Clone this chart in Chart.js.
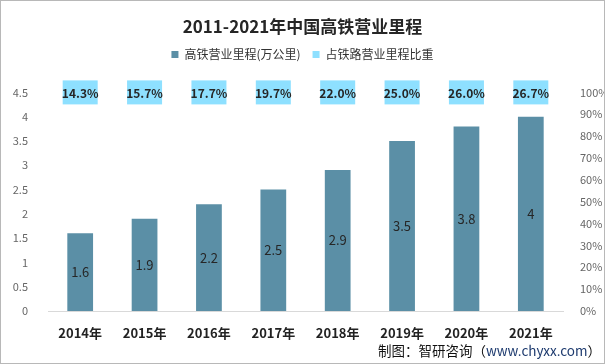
<!DOCTYPE html>
<html>
<head>
<meta charset="utf-8">
<script src="https://cdn.jsdelivr.net/npm/chart.js@4.4.1/dist/chart.umd.min.js"></script>
<style>
  html, body { margin: 0; padding: 0; background: #fff; }
  #wrap { position: relative; width: 605px; height: 364px; box-sizing: border-box; border: 1px solid #b8b8b8; }
  #c { position: absolute; left: 0; top: 0; }
  #source { position: absolute; right: 3px; bottom: 3px; font: 13.5px "Noto Sans CJK SC", sans-serif; color: #111; }
  #source span { color: #1d3a6e; }
</style>
</head>
<body>
<div id="wrap">
  <canvas id="c" width="603" height="362"></canvas>
  <div id="source">制图：智研咨询（<span>www.chyxx.com</span>）</div>
</div>
<script>
const years = ["2014年", "2015年", "2016年", "2017年", "2018年", "2019年", "2020年", "2021年"];
const mileage = [1.6, 1.9, 2.2, 2.5, 2.9, 3.5, 3.8, 4];
const share = [14.3, 15.7, 17.7, 19.7, 22.0, 25.0, 26.0, 26.7];

const FONT = '"Noto Sans CJK SC", "Noto Sans", sans-serif';

// labels in the middle of each bar + percentage boxes along the top
const labelPlugin = {
  id: "labels",
  afterInit(chart) {
    // leave extra room under the legend
    const legend = chart.legend;
    const fit = legend.fit.bind(legend);
    legend.fit = function () {
      fit();
      this.height += 22;
    };
  },
  afterDatasetsDraw(chart) {
    const ctx = chart.ctx;
    const area = chart.chartArea;
    ctx.save();
    ctx.textAlign = "center";
    ctx.textBaseline = "middle";

    chart.getDatasetMeta(0).data.forEach((bar, i) => {
      ctx.font = "13px " + FONT;
      ctx.fillStyle = "#262626";
      ctx.fillText(String(mileage[i]), bar.x, (bar.y + bar.base) / 2);
    });

    chart.getDatasetMeta(1).data.forEach((pt, i) => {
      const w = 35, h = 24;
      ctx.fillStyle = "#8ee0ff";
      ctx.fillRect(pt.x - w / 2, area.top - h / 2, w, h);
      ctx.font = "bold 12px " + FONT;
      ctx.fillStyle = "#262626";
      ctx.fillText(share[i].toFixed(1) + "%", pt.x, area.top + 1);
    });
    ctx.restore();
  }
};

new Chart(document.getElementById("c"), {
  data: {
    labels: years,
    datasets: [
      {
        type: "bar",
        label: "高铁营业里程(万公里)",
        data: mileage,
        backgroundColor: "#5b8fa6",
        barPercentage: 0.8,
        categoryPercentage: 0.5,
        yAxisID: "y",
        order: 2
      },
      {
        type: "line",
        label: "占铁路营业里程比重",
        data: share,
        showLine: false,
        pointRadius: 0,
        backgroundColor: "#8ee0ff",
        borderColor: "#8ee0ff",
        yAxisID: "y1",
        order: 1
      }
    ]
  },
  options: {
    responsive: false,
    animation: false,
    plugins: {
      title: {
        display: true,
        text: "2011-2021年中国高铁营业里程",
        color: "#262626",
        font: { family: FONT, size: 17, weight: "bold" },
        padding: { top: 15, bottom: 0 }
      },
      legend: {
        labels: {
          color: "#333",
          font: { family: FONT, size: 12 },
          boxWidth: 7,
          boxHeight: 7,
          padding: 12,
          generateLabels(chart) {
            return chart.data.datasets.map((ds, i) => ({
              text: ds.label,
              fillStyle: ds.backgroundColor,
              strokeStyle: ds.backgroundColor,
              lineWidth: 0,
              datasetIndex: i,
              fontColor: "#333"
            }));
          }
        }
      },
      tooltip: { enabled: false }
    },
    scales: {
      x: {
        grid: { display: false },
        border: { color: "#d9d9d9" },
        ticks: { color: "#222", font: { family: FONT, size: 13, weight: "bold" }, padding: 6 },
        afterFit(axis) { axis.height = 52; }
      },
      y: {
        position: "left",
        min: 0,
        max: 4.5,
        ticks: { stepSize: 0.5, color: "#666", font: { family: FONT, size: 11 }, padding: 12, callback: v => String(v) },
        grid: { display: false },
        border: { display: false },
        afterFit(axis) { axis.width = 47; }
      },
      y1: {
        position: "right",
        min: 0,
        max: 100,
        ticks: { stepSize: 10, color: "#666", font: { family: FONT, size: 11 }, padding: 9, callback: v => v + "%" },
        grid: { display: false },
        border: { display: false },
        afterFit(axis) { axis.width = 41; }
      }
    }
  },
  plugins: [labelPlugin]
});
</script>
</body>
</html>
